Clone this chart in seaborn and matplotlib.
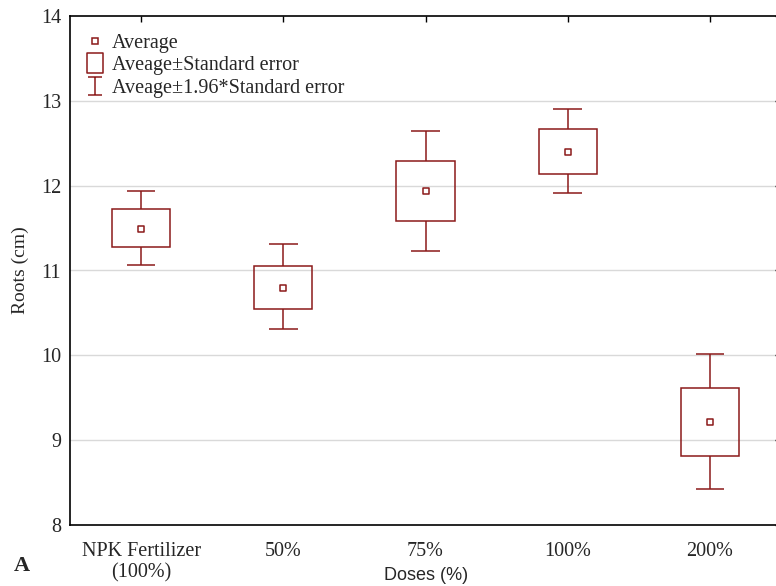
import numpy as np
import pandas as pd
import matplotlib
matplotlib.use("Agg")
import matplotlib.pyplot as plt
import seaborn as sns
from matplotlib.lines import Line2D
from matplotlib.path import Path

categories = ["NPK Fertilizer\n(100%)", "50%", "75%", "100%", "200%"]
means = [11.49, 10.79, 11.94, 12.40, 9.21]
se_low = [11.28, 10.55, 11.58, 12.14, 8.81]
se_high = [11.73, 11.05, 12.29, 12.67, 9.62]
ci_low = [11.07, 10.31, 11.23, 11.91, 8.42]
ci_high = [11.94, 11.31, 12.64, 12.90, 10.01]

color = "#8B1A1A"
serif = "Liberation Serif"

sns.set_theme(style="white")
plt.rcParams["font.family"] = [serif, "DejaVu Serif"]

fig = plt.figure(figsize=(7.76, 5.86), dpi=100)
W, H = 776, 586
ax = fig.add_axes([70 / W, 1 - 525 / H, (781 - 70) / W, (525 - 16) / H])

df = pd.DataFrame({"pos": np.arange(len(categories)), "cat": categories, "mean": means,
                   "se_low": se_low, "se_high": se_high, "ci_low": ci_low, "ci_high": ci_high})

for y in range(9, 14):
    ax.axhline(y, color="#d9d9d9", lw=1, zorder=0)

box_w = 0.41
cap_w = 0.2
ax.bar(df["pos"], df["se_high"] - df["se_low"], bottom=df["se_low"], width=box_w,
       fill=False, edgecolor=color, linewidth=1.1, zorder=3)
ax.vlines(df["pos"], df["se_high"], df["ci_high"], color=color, lw=1.1, zorder=3)
ax.vlines(df["pos"], df["ci_low"], df["se_low"], color=color, lw=1.1, zorder=3)
ax.hlines(df["ci_high"], df["pos"] - cap_w / 2, df["pos"] + cap_w / 2, color=color, lw=1.1, zorder=3)
ax.hlines(df["ci_low"], df["pos"] - cap_w / 2, df["pos"] + cap_w / 2, color=color, lw=1.1, zorder=3)
sns.scatterplot(data=df, x="pos", y="mean", ax=ax, marker="s", s=22, facecolor="white",
                edgecolor=color, linewidth=1.1, zorder=4, legend=False)

ax.set_xlim(-0.5, 4.5)
ax.set_ylim(8, 14)
ax.set_xticks(df["pos"])
ax.set_xticklabels(categories, fontsize=14.5, linespacing=1.2)
ax.set_yticks(range(8, 15))
ax.set_yticklabels([str(v) for v in range(8, 15)], fontsize=14.5)
ax.tick_params(direction="in", length=4, width=1, color="black", top=True, right=True)
ax.tick_params(axis="y", pad=6.5)
ax.tick_params(axis="x", pad=12)
for s in ax.spines.values():
    s.set_color("black")
    s.set_linewidth(1.2)

ax.set_xlabel("Doses (%)", family="Liberation Sans", fontsize=13)
ax.xaxis.set_label_coords((426 - 70) / (781 - 70), -(576 - 525) / (525 - 16))
ax.xaxis.label.set_va("center")
ax.set_ylabel("Roots (cm)", family=serif, fontsize=14)
ax.yaxis.set_label_coords(-(70 - 20) / (781 - 70), 0.5)
ax.yaxis.label.set_va("center")

ibar = Path([(-0.4, 0.5), (0.4, 0.5), (0, 0.5), (0, -0.5), (-0.4, -0.5), (0.4, -0.5)],
            [Path.MOVETO, Path.LINETO, Path.MOVETO, Path.LINETO, Path.MOVETO, Path.LINETO])
rect = Path([(-0.4, -0.5), (0.4, -0.5), (0.4, 0.5), (-0.4, 0.5), (-0.4, -0.5)],
            [Path.MOVETO, Path.LINETO, Path.LINETO, Path.LINETO, Path.CLOSEPOLY])
handles = [
    Line2D([], [], ls="none", marker="s", markersize=5, markerfacecolor="white",
           markeredgecolor=color, markeredgewidth=1.1),
    Line2D([], [], ls="none", marker=rect, markersize=14, markerfacecolor="white",
           markeredgecolor=color, markeredgewidth=1.1),
    Line2D([], [], ls="none", marker=ibar, markersize=13, markerfacecolor="none",
           markeredgecolor=color, markeredgewidth=1.1),
]
labels = ["Average", "Aveage\u00b1Standard error", "Aveage\u00b11.96*Standard error"]
ax.legend(handles, labels, loc="upper left", frameon=False, fontsize=14.5,
          handlelength=1.0, handletextpad=0.35, labelspacing=0.18,
          bbox_to_anchor=(0.0, 0.995), borderaxespad=0.45, borderpad=0.3)

fig.text(22 / W, 1 - 566 / H, "A", fontsize=16, fontweight="bold", family=serif, va="center", ha="center")

fig.savefig("out.png", dpi=100)
